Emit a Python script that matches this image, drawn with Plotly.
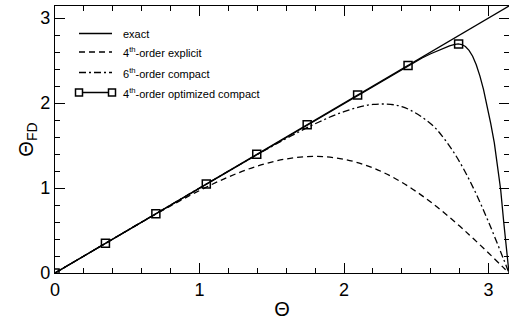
import plotly.graph_objects as go

PI = 3.14159

# exact
theta_exact = [0.0, PI]
fd_exact = [0.0, PI]

# 4th-order explicit
theta_exp = [0.0, 0.2, 0.4, 0.6, 0.8, 1.0, 1.2, 1.4, 1.6, 1.8, 2.0, 2.2, 2.4, 2.6, 2.8, 2.9, 3.0, 3.1, PI]
fd_exp = [0.0, 0.200, 0.400, 0.598, 0.790, 0.970, 1.130, 1.258, 1.342, 1.372, 1.338, 1.237, 1.067, 0.835, 0.552, 0.396, 0.235, 0.069, 0.0]

# 6th-order compact
theta_c6 = [0.0, 0.2, 0.4, 0.6, 0.8, 1.0, 1.2, 1.4, 1.6, 1.8, 2.0, 2.2, 2.4, 2.6, 2.7, 2.8, 2.9, 3.0, 3.1, PI]
fd_c6 = [0.0, 0.200, 0.400, 0.600, 0.800, 1.000, 1.198, 1.394, 1.582, 1.756, 1.899, 1.983, 1.958, 1.756, 1.565, 1.307, 0.982, 0.600, 0.180, 0.0]

# 4th-order optimized compact (line)
theta_opt = [0.0, 1.0, 2.0, 2.4, 2.48, 2.54, 2.6, 2.65, 2.69, 2.73, 2.76, 2.79, 2.815, 2.84, 2.865,
             2.89, 2.915, 2.94, 2.965, 2.99, 3.015, 3.04, 3.062, 3.084, 3.105, 3.125, PI]
fd_opt = [0.0, 1.0, 2.0, 2.399, 2.476, 2.530, 2.580, 2.618, 2.646, 2.672, 2.688, 2.695, 2.688, 2.665, 2.620,
          2.550, 2.450, 2.320, 2.160, 1.970, 1.760, 1.530, 1.270, 0.980, 0.600, 0.220, 0.0]
# markers of the optimized compact scheme
theta_opt_mk = [0.0, 0.349, 0.698, 1.047, 1.396, 1.745, 2.094, 2.443, 2.793]
fd_opt_mk = [0.0, 0.349, 0.698, 1.047, 1.396, 1.745, 2.094, 2.441, 2.695]

legend_labels = ["exact", "4<sup>th</sup>-order explicit", "6<sup>th</sup>-order compact",
                 "4<sup>th</sup>-order optimized compact"]

FONT = "Liberation Sans, Arial, sans-serif"
LW = 1.3

fig = go.Figure()
fig.add_trace(go.Scatter(x=theta_exact, y=fd_exact, mode="lines",
                         line=dict(color="black", width=LW), showlegend=False))
fig.add_trace(go.Scatter(x=theta_exp, y=fd_exp, mode="lines", line_shape="spline",
                         line=dict(color="black", width=LW, dash="6px,4px"), showlegend=False))
fig.add_trace(go.Scatter(x=theta_c6, y=fd_c6, mode="lines", line_shape="spline",
                         line=dict(color="black", width=LW, dash="7px,3px,2px,3px"), showlegend=False))
fig.add_trace(go.Scatter(x=theta_opt, y=fd_opt, mode="lines", line_shape="linear",
                         line=dict(color="black", width=LW), showlegend=False))
fig.add_trace(go.Scatter(x=theta_opt_mk, y=fd_opt_mk, mode="markers",
                         marker=dict(symbol="square-open", size=8, color="black",
                                     line=dict(width=1.5, color="black")),
                         showlegend=False))

# manual legend (pixel geometry converted to paper coords)
L, T, W, H = 55, 6, 454, 267
def px(x):
    return (x - L) / W
def py(y):
    return (T + H - y) / H

rows = [33.5, 52, 72.5, 92.5]
dashes = ["solid", "6px,4px", "7px,3px,2px,3px", "solid"]
for r, d, lab in zip(rows, dashes, legend_labels):
    fig.add_shape(type="line", xref="paper", yref="paper",
                  x0=px(79), x1=px(112), y0=py(r), y1=py(r),
                  line=dict(color="black", width=LW, dash=d))
    fig.add_annotation(x=px(121), y=py(r), xref="paper", yref="paper",
                       text=lab, showarrow=False, xanchor="left", yanchor="middle",
                       font=dict(family=FONT, size=11, color="black"))
for cx in (79, 112):
    fig.add_shape(type="rect", xref="paper", yref="paper",
                  x0=px(cx - 3.5), x1=px(cx + 3.5), y0=py(rows[3] + 3.5), y1=py(rows[3] - 3.5),
                  line=dict(color="black", width=1.5), fillcolor="white")

axis_common = dict(
    range=[0, PI], dtick=1, tick0=0, ticks="inside", ticklen=10, tickwidth=1,
    tickcolor="black", showline=True, linecolor="black", linewidth=1.2,
    mirror="allticks", showgrid=False, zeroline=False,
    tickfont=dict(family=FONT, size=18, color="black"),
    minor=dict(dtick=0.2, ticks="inside", ticklen=5, tickwidth=1, tickcolor="black", showgrid=False),
)

fig.update_layout(
    width=509, height=322,
    margin=dict(l=L, r=0, t=T, b=322 - T - H, pad=0),
    paper_bgcolor="white", plot_bgcolor="white",
    xaxis=dict(**axis_common, title=dict(text="Θ", font=dict(family=FONT, size=20, color="black"), standoff=3)),
    yaxis=dict(**axis_common, title=dict(text="Θ<sub>FD</sub>", font=dict(family=FONT, size=20, color="black"), standoff=1)),
    showlegend=False,
)

fig.write_html("out.html", config={"displayModeBar": False},
               post_script="document.body.style.margin='0';document.body.style.padding='0';")
